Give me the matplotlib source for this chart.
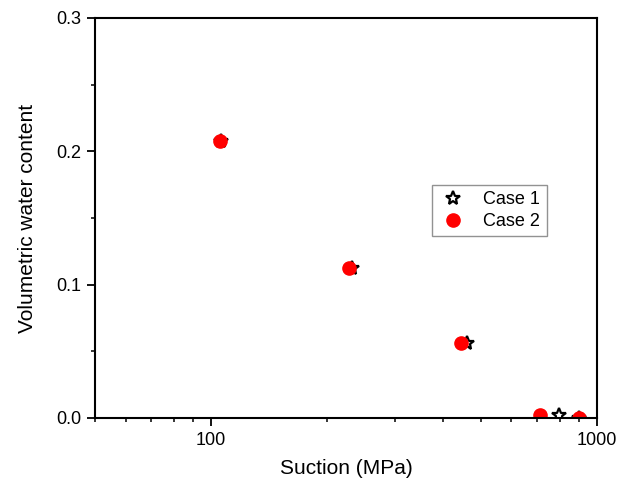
import numpy as np
import matplotlib
matplotlib.use('Agg')
import matplotlib.pyplot as plt
from matplotlib.ticker import MultipleLocator, LogLocator, NullFormatter, FixedLocator

plt.rcParams['font.family'] = ['Liberation Sans', 'DejaVu Sans']

# 数据
suction1 = [106, 232, 460, 797, 900]
theta1 = [0.2075, 0.1125, 0.0563, 0.0023, 0.0]
suction2 = [105.5, 228, 444, 711, 898]
theta2 = [0.2075, 0.1125, 0.0563, 0.0023, 0.0]

fig = plt.figure(figsize=(6.24, 4.83), dpi=100)
ax = fig.add_axes([95/624, 65/483, 502/624, 400/483])

ax.plot(suction1, theta1, linestyle='none', marker='*', markersize=10,
        markerfacecolor='white', markeredgecolor='black', markeredgewidth=1.6,
        label='Case 1')
ax.plot(suction2, theta2, linestyle='none', marker='o', markersize=9.5,
        color='red', markeredgecolor='red', label='Case 2')

ax.set_xscale('log')
ax.set_xlim(50, 1000)
ax.set_ylim(0, 0.3)
ax.xaxis.set_major_locator(FixedLocator([100, 1000]))
ax.xaxis.set_major_formatter(matplotlib.ticker.FuncFormatter(lambda v, p: '%d' % v))
ax.xaxis.set_minor_locator(LogLocator(base=10, subs=np.arange(2, 10)))
ax.xaxis.set_minor_formatter(NullFormatter())
ax.yaxis.set_major_locator(MultipleLocator(0.1))
ax.yaxis.set_minor_locator(MultipleLocator(0.05))
ax.yaxis.set_major_formatter(matplotlib.ticker.FormatStrFormatter('%.1f'))

for s in ax.spines.values():
    s.set_linewidth(1.5)
ax.tick_params(which='major', direction='out', length=6, width=1.3, labelsize=13, pad=4)
ax.tick_params(which='minor', direction='out', length=3, width=1.1)

ax.set_xlabel('Suction (MPa)', fontsize=15, labelpad=7)
ax.set_ylabel('Volumetric water content', fontsize=15, labelpad=13.5)

leg = ax.legend(loc='upper left', bbox_to_anchor=(328/502, 242/400),
                fontsize=13, frameon=True, fancybox=False, edgecolor='#777777',
                handletextpad=0.9, borderpad=0.35, labelspacing=0.25, handlelength=1.6)
leg.get_frame().set_linewidth(1.0)

plt.savefig('out.png', dpi=100)
